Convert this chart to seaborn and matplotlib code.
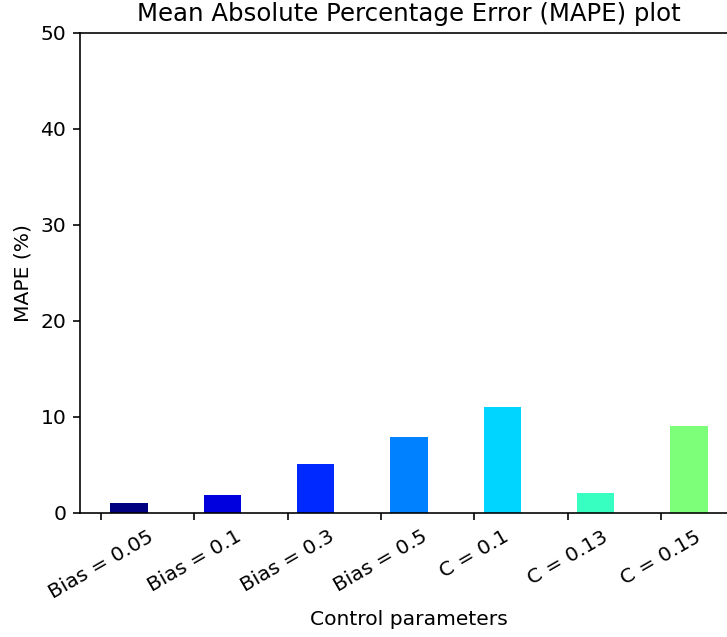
import numpy as np
import pandas as pd
import matplotlib
matplotlib.use("Agg")
import matplotlib.pyplot as plt
import seaborn as sns

labels = ["Bias = 0.05", "Bias = 0.1", "Bias = 0.3", "Bias = 0.5", "C = 0.1", "C = 0.13", "C = 0.15"]
mape = [1.0, 1.9, 5.1, 7.9, 11.0, 2.1, 9.1]
yticks = [0, 10, 20, 30, 40, 50]

idx = np.arange(len(labels))
colors = [plt.cm.jet(i / 12) for i in idx]

df = pd.DataFrame({"pos": idx + 0.3, "label": labels, "mape": mape})

dpi = 146
fig = plt.figure(figsize=(727 / dpi, 637 / dpi), dpi=dpi)
ax = fig.add_axes([0.1107, 0.1947, 0.9037, 0.7535])

sns.barplot(data=df, x="pos", y="mape", hue="label", palette=dict(zip(labels, colors)),
            native_scale=True, width=0.4, saturation=1, linewidth=0, legend=False, ax=ax)

ax.set_xlim(-0.22, 6.82)
ax.set_ylim(0, 50)
ax.set_yticks(yticks)
ax.set_xticks(idx)
ax.set_xticklabels(labels, rotation=30, ha="center")
ax.set_xlabel("Control parameters")
ax.set_ylabel("MAPE (%)")
ax.set_title("Mean Absolute Percentage Error (MAPE) plot", fontsize=12)

fig.savefig("out.png", dpi=dpi)
